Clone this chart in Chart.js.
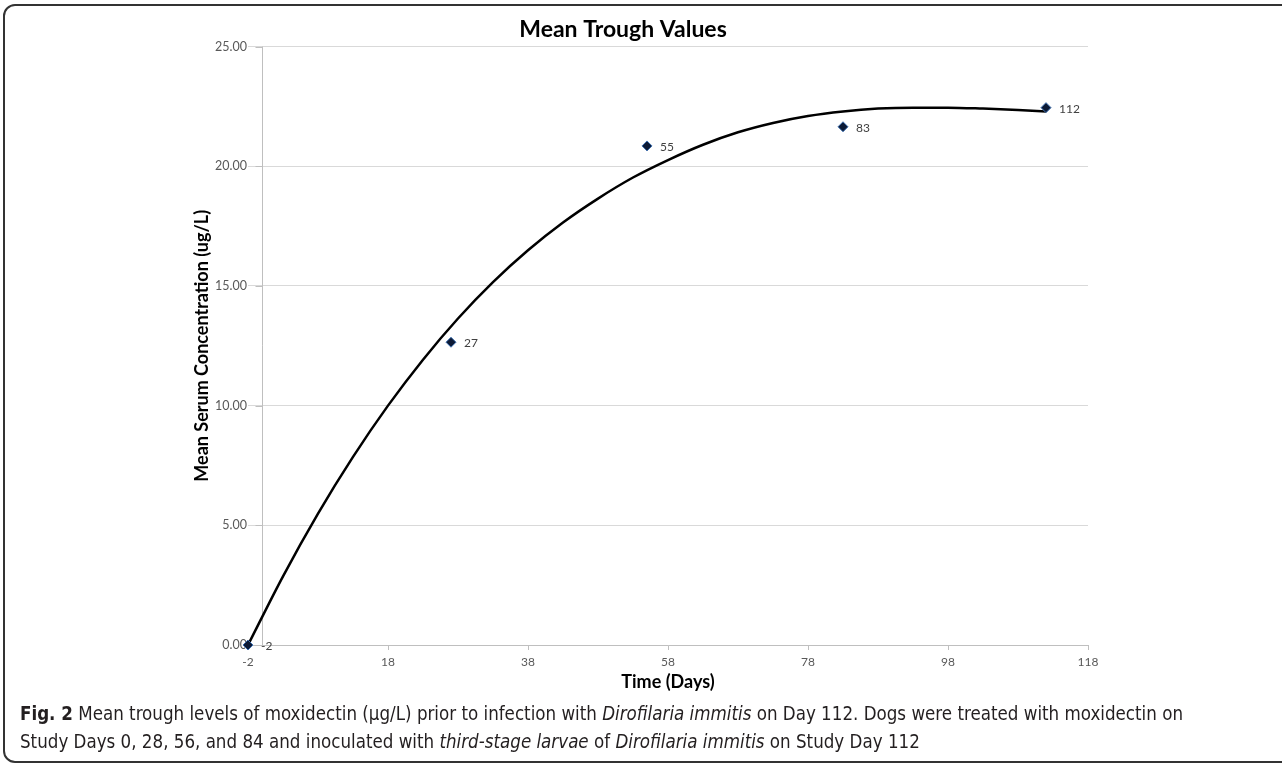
<!DOCTYPE html>
<html><head><meta charset="utf-8">
<script src="https://cdn.jsdelivr.net/npm/chart.js@4.4.1/dist/chart.umd.min.js"></script>
<style>
html,body{margin:0;padding:0;background:#fff;width:1282px;height:766px;overflow:hidden;}
#frame{position:absolute;left:3px;top:4px;width:1300px;height:759px;border:2px solid #333;border-radius:12px;box-sizing:border-box;}
#wrap{position:absolute;left:0;top:0;width:1282px;height:700px;}
#cap{position:absolute;left:20px;top:699px;font-family:"Liberation Sans Narrow","DejaVu Sans Condensed","Open Sans",sans-serif;font-size:19px;color:#231f20;line-height:28px;}
.ln{white-space:nowrap;transform-origin:0 50%;display:inline-block}
</style></head>
<body>
<div id="frame"></div>
<div id="wrap"><canvas id="c" width="1282" height="700"></canvas></div>
<div id="cap">
<div><span class="ln"><b>Fig. 2</b> Mean trough levels of moxidectin (µg/L) prior to infection with <i>Dirofilaria immitis</i> on Day 112. Dogs were treated with moxidectin on</span></div>
<div><span class="ln">Study Days 0, 28, 56, and 84 and inoculated with <i>third-stage larvae</i> of <i>Dirofilaria immitis</i> on Study Day 112</span></div>
</div>
<script>
const dayValues=[-2,27,55,83,112];
const concValues=[0,12.65,20.85,21.65,22.45];
const pointLabels=['-2','27','55','83','112'];
const curveDays=[-2,3,8,13,18,23,28,33,38,43,48,53,58,63,68,73,78,83,88,93,98,103,108,112];
const curveValues=[0,2.87,5.49,7.86,10.0,11.92,13.64,15.16,16.49,17.65,18.65,19.53,20.26,20.90,21.42,21.81,22.10,22.29,22.41,22.45,22.45,22.41,22.35,22.29];
const xTicks=[-2,18,38,58,78,98,118];
const yTicks=[0,5,10,15,20,25];

Chart.defaults.font.family='Lato, "Open Sans", sans-serif';

const yAxisAtZero={id:'yAxisAtZero',beforeDatasetsDraw(chart){
  const {ctx,chartArea,scales}=chart;const px=Math.round(scales.x.getPixelForValue(0))+0.5;
  ctx.save();ctx.strokeStyle='#bfbfbf';ctx.lineWidth=1;ctx.beginPath();
  ctx.moveTo(px,chartArea.top);ctx.lineTo(px,chartArea.bottom);ctx.stroke();
  yTicks.forEach(v=>{const py=Math.round(scales.y.getPixelForValue(v))+0.5;ctx.beginPath();ctx.moveTo(px-7,py);ctx.lineTo(px,py);ctx.stroke();});
  ctx.restore();}};
const labelPlugin={id:'labelPlugin',afterDatasetsDraw(chart){
  const {ctx,scales}=chart;ctx.save();ctx.font='12px Lato, "Open Sans", sans-serif';ctx.fillStyle='#404040';ctx.textBaseline='middle';ctx.textAlign='left';
  dayValues.forEach((d,i)=>{ctx.fillText(pointLabels[i],scales.x.getPixelForValue(d)+13,scales.y.getPixelForValue(concValues[i])+1);});
  ctx.restore();}};

new Chart(document.getElementById('c'),{
  type:'scatter',
  data:{datasets:[
    {data:curveDays.map((d,i)=>({x:d,y:curveValues[i]})),showLine:true,borderColor:'#000',borderWidth:2.5,pointRadius:0,cubicInterpolationMode:'monotone',fill:false,order:2,clip:false},
    {data:dayValues.map((d,i)=>({x:d,y:concValues[i]})),pointStyle:'rectRot',pointRadius:5,backgroundColor:'#0c1a36',borderColor:'#3d6fb0',borderWidth:1,order:1,clip:false}
  ]},
  options:{responsive:false,animation:false,devicePixelRatio:1,
    layout:{padding:{left:158,right:194,top:0,bottom:7}},
    plugins:{legend:{display:false},tooltip:{enabled:false},
      title:{display:true,text:'Mean Trough Values',color:'#000',font:{size:23,weight:'bold'},padding:{top:16,bottom:3}}},
    scales:{
      x:{type:'linear',min:-2,max:118,position:'bottom',
        afterBuildTicks:s=>{s.ticks=xTicks.map(v=>({value:v}));},
        ticks:{color:'#595959',font:{size:12},padding:5,maxRotation:0,autoSkip:false},
        grid:{drawOnChartArea:false,drawTicks:true,tickLength:5,color:'#bfbfbf'},
        border:{display:true,color:'#bfbfbf'},
        title:{display:true,text:'Time (Days)',color:'#000',font:{size:18,weight:'bold'},padding:{top:2,bottom:0}},
        afterFit:s=>{s.height=48;}},
      y:{type:'linear',min:0,max:25,position:'left',
        afterBuildTicks:s=>{s.ticks=yTicks.map(v=>({value:v}));},
        ticks:{color:'#595959',font:{size:12.5},padding:1,callback:v=>Number(v).toFixed(2)},
        grid:{color:'#d9d9d9',drawTicks:false,lineWidth:1},
        border:{display:false},
        title:{display:true,text:'Mean Serum Concentration (ug/L)',color:'#000',font:{size:18,weight:'bold'},padding:{top:33,bottom:0}},
        afterFit:s=>{s.width=90;}}
    }},
  plugins:[yAxisAtZero,labelPlugin]
});

const lines=document.querySelectorAll('.ln');
const sc=1163/lines[0].getBoundingClientRect().width;
lines.forEach(el=>{el.style.transform='scaleX('+sc+')';});
</script>
</body></html>
